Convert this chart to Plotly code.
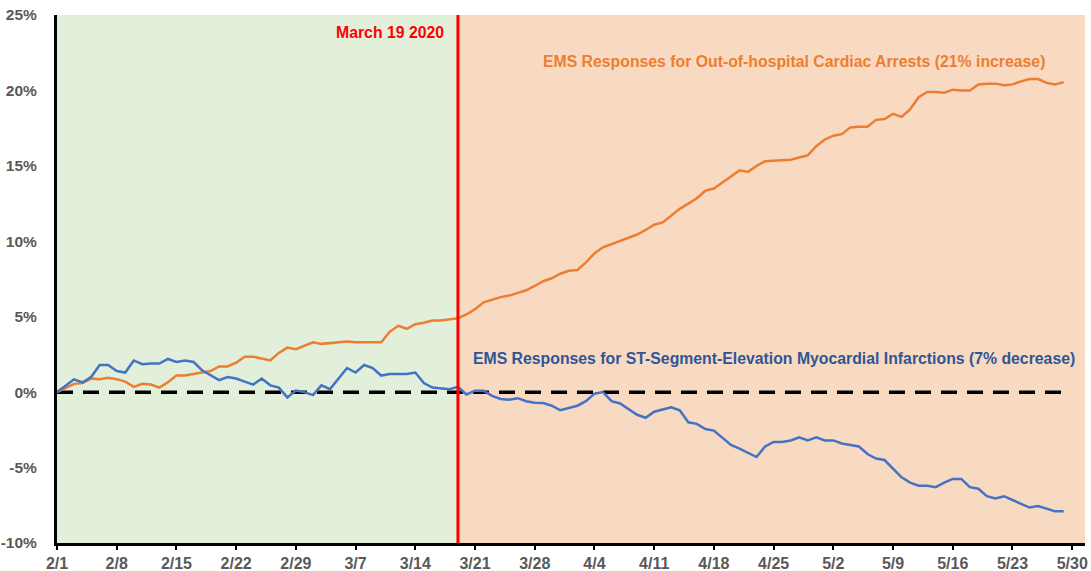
import pandas as pd
import plotly.graph_objects as go

start_date = "2020-02-01"
cardiac_arrest_pct = [
    0.0, 0.25, 0.55, 0.6, 0.9, 0.85, 0.95, 0.85, 0.7, 0.35,
    0.55, 0.5, 0.3, 0.65, 1.1, 1.1, 1.2, 1.3, 1.4, 1.7,
    1.7, 1.95, 2.35, 2.35, 2.2, 2.1, 2.6, 2.95, 2.85, 3.1,
    3.3, 3.2, 3.25, 3.3, 3.35, 3.3, 3.3, 3.3, 3.3, 4.0,
    4.4, 4.2, 4.5, 4.6, 4.75, 4.75, 4.8, 4.9, 5.15, 5.5,
    5.95, 6.15, 6.3, 6.4, 6.55, 6.75, 7.05, 7.35, 7.55, 7.85,
    8.05, 8.1, 8.6, 9.2, 9.6, 9.8, 10.05, 10.25, 10.45, 10.75,
    11.1, 11.25, 11.7, 12.15, 12.5, 12.85, 13.35, 13.5, 13.9, 14.3,
    14.7, 14.6, 15.0, 15.3, 15.35, 15.4, 15.4, 15.55, 15.7, 16.3,
    16.75, 17.0, 17.1, 17.55, 17.6, 17.6, 18.05, 18.1, 18.45, 18.25,
    18.75, 19.55, 19.9, 19.9, 19.85, 20.05, 20.0, 20.0, 20.4, 20.45,
    20.45, 20.35, 20.4, 20.6, 20.75, 20.75, 20.5, 20.4, 20.55,
]
stemi_pct = [
    0.0, 0.45, 0.85, 0.65, 1.0, 1.8, 1.8, 1.4, 1.3, 2.1,
    1.85, 1.9, 1.9, 2.2, 2.0, 2.1, 2.0, 1.45, 1.1, 0.8,
    1.0, 0.9, 0.7, 0.5, 0.9, 0.45, 0.3, -0.35, 0.1, 0.0,
    -0.2, 0.45, 0.2, 0.9, 1.6, 1.3, 1.8, 1.6, 1.1, 1.2,
    1.2, 1.2, 1.3, 0.6, 0.3, 0.25, 0.2, 0.35, -0.15, 0.1,
    0.1, -0.25, -0.45, -0.5, -0.4, -0.6, -0.7, -0.72, -0.9, -1.2,
    -1.05, -0.9, -0.6, -0.1, 0.0, -0.6, -0.75, -1.1, -1.5, -1.7,
    -1.3, -1.15, -1.0, -1.2, -2.0, -2.1, -2.45, -2.55, -3.0, -3.5,
    -3.75, -4.0, -4.3, -3.6, -3.3, -3.3, -3.2, -3.0, -3.2, -3.0,
    -3.2, -3.2, -3.4, -3.5, -3.6, -4.1, -4.4, -4.5, -5.1, -5.65,
    -6.0, -6.2, -6.2, -6.3, -6.0, -5.75, -5.75, -6.3, -6.4, -6.9,
    -7.05, -6.9, -7.15, -7.4, -7.65, -7.55, -7.7, -7.9, -7.9,
]
tick_dates = ["2020-02-01", "2020-02-08", "2020-02-15", "2020-02-22", "2020-02-29",
              "2020-03-07", "2020-03-14", "2020-03-21", "2020-03-28", "2020-04-04",
              "2020-04-11", "2020-04-18", "2020-04-25", "2020-05-02", "2020-05-09",
              "2020-05-16", "2020-05-23", "2020-05-30"]
tick_labels = ["2/1", "2/8", "2/15", "2/22", "2/29", "3/7", "3/14", "3/21", "3/28",
               "4/4", "4/11", "4/18", "4/25", "5/2", "5/9", "5/16", "5/23", "5/30"]
y_ticks = [-10, -5, 0, 5, 10, 15, 20, 25]
lockdown_date = "2020-03-19"
x_end = "2020-05-31 12:00"

dates = pd.date_range(start_date, periods=len(cardiac_arrest_pct), freq="D")

ORANGE = "#ED7D31"
BLUE = "#4472C4"
FONT = "Liberation Sans, Arial, sans-serif"
ANN_SIZE = 15.8

fig = go.Figure()
fig.add_trace(go.Scatter(x=[dates[0], dates[-1]], y=[0, 0], mode="lines",
                         line=dict(color="black", width=3.5, dash="16px,10px"),
                         hoverinfo="skip", showlegend=False))
fig.add_trace(go.Scatter(x=dates, y=cardiac_arrest_pct, mode="lines",
                         line=dict(color=ORANGE, width=2.5), showlegend=False))
fig.add_trace(go.Scatter(x=dates, y=stemi_pct, mode="lines",
                         line=dict(color=BLUE, width=2.5), showlegend=False))

fig.add_shape(type="rect", xref="x", yref="paper", x0=start_date, x1=lockdown_date,
              y0=0, y1=1, fillcolor="#E2EFDA", line_width=0, layer="below")
fig.add_shape(type="rect", xref="x", yref="paper", x0=lockdown_date, x1=x_end,
              y0=0, y1=1, fillcolor="#F8DAC2", line_width=0, layer="below")
fig.add_shape(type="line", xref="x", yref="paper", x0=lockdown_date, x1=lockdown_date,
              y0=0, y1=1, line=dict(color="#FF0000", width=3))

fig.add_annotation(x=lockdown_date, y=23.85, xref="x", yref="y", text="<b>March 19 2020</b>",
                   showarrow=False, xanchor="right", xshift=-12,
                   font=dict(family=FONT, size=ANN_SIZE, color="#FF0000"))
fig.add_annotation(x="2020-04-27 10:00", y=21.9, xref="x", yref="y",
                   text="<b>EMS Responses for Out-of-hospital Cardiac Arrests (21% increase)</b>",
                   showarrow=False, xanchor="center",
                   font=dict(family=FONT, size=ANN_SIZE, color=ORANGE))
fig.add_annotation(x="2020-04-25", y=2.25, xref="x", yref="y",
                   text="<b>EMS Responses for ST-Segment-Elevation Myocardial Infarctions (7% decrease)</b>",
                   showarrow=False, xanchor="center",
                   font=dict(family=FONT, size=ANN_SIZE, color="#2F5597"))

fig.update_layout(
    width=1091, height=571,
    margin=dict(l=57, r=6, t=15, b=28),
    paper_bgcolor="white", plot_bgcolor="white",
    font=dict(family=FONT, size=16, color="#595959"),
    showlegend=False,
)
fig.update_xaxes(type="date", range=[start_date, x_end], automargin=False,
                 tickvals=tick_dates, ticktext=["<b>%s</b>" % t for t in tick_labels],
                 showgrid=False, zeroline=False,
                 showline=True, linecolor="black", linewidth=3,
                 ticks="outside", ticklen=4, tickwidth=2, tickcolor="black",
                 tickfont=dict(family=FONT, size=16, color="#595959"))
fig.update_yaxes(range=[-10, 25], tickvals=y_ticks, automargin=False,
                 ticktext=["<b>%d%%</b>" % v for v in y_ticks],
                 showgrid=False, zeroline=False,
                 showline=True, linecolor="black", linewidth=3,
                 ticks="", ticklabelstandoff=14,
                 tickfont=dict(family=FONT, size=15.5, color="#595959"))

fig.write_html("out.html", config={"displayModeBar": False},
               post_script="document.body.style.margin='0';")
